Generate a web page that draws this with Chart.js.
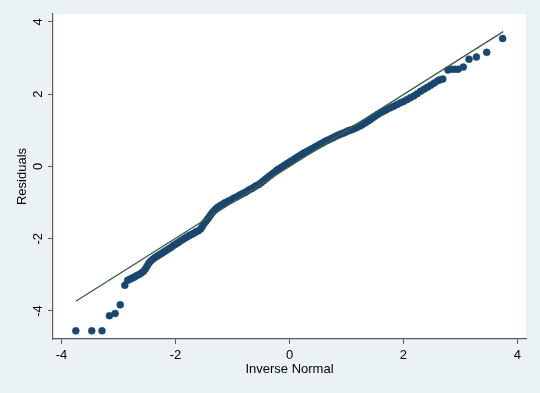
<!DOCTYPE html>
<html>
<head>
<meta charset="utf-8">
<script src="https://cdn.jsdelivr.net/npm/chart.js@4.4.1/dist/chart.umd.min.js"></script>
<style>
    html, body { margin: 0; padding: 0; background: #eaf2f3; }
    canvas { display: block; }
</style>
</head>
<body>
<canvas id="qnormChart" width="540" height="393"></canvas>
<script>
// ===== DATA =====

const xTicks = [-4, -2, 0, 2, 4];
const yTicks = [-4, -2, 0, 2, 4];

// inverse normal (x) and residuals (y) of the plotted points
const invNormal = [
    -3.75, -3.47, -3.29, -3.16, -3.06, -2.97, -2.89, -2.84, -2.80, -2.76,
    -2.72, -2.68, -2.64, -2.60, -2.56, -2.53, -2.50, -2.47, -2.44, -2.40,
    -2.36, -2.32, -2.28, -2.24, -2.20, -2.16, -2.12, -2.08, -2.04, -2.00,
    -1.96, -1.92, -1.88, -1.84, -1.80, -1.76, -1.72, -1.68, -1.64, -1.60,
    -1.56, -1.53, -1.50, -1.47, -1.44, -1.41, -1.38, -1.35, -1.32, -1.29,
    -1.26, -1.22, -1.18, -1.14, -1.10, -1.06, -1.02, -0.98, -0.94, -0.90,
    -0.86, -0.82, -0.78, -0.74, -0.70, -0.66, -0.62, -0.58, -0.54, -0.50,
    -0.46, -0.42, -0.38, -0.34, -0.30, -0.26, -0.22, -0.18, -0.14, -0.10,
    -0.06, -0.02, 0.02, 0.06, 0.10, 0.14, 0.18, 0.22, 0.26, 0.30,
    0.34, 0.38, 0.42, 0.46, 0.50, 0.54, 0.58, 0.62, 0.66, 0.70,
    0.74, 0.78, 0.82, 0.86, 0.90, 0.94, 0.98, 1.02, 1.06, 1.10,
    1.14, 1.18, 1.22, 1.26, 1.30, 1.34, 1.38, 1.42, 1.46, 1.50,
    1.55, 1.60, 1.65, 1.70, 1.76, 1.82, 1.88, 1.94, 2.00, 2.06,
    2.12, 2.18, 2.24, 2.30, 2.36, 2.42, 2.48, 2.54, 2.60, 2.64,
    2.69, 2.78, 2.84, 2.90, 2.96, 3.05, 3.15, 3.28, 3.46, 3.74
];

const residuals = [
    -4.55, -4.55, -4.55, -4.13, -4.07, -3.83, -3.29, -3.15, -3.12, -3.09,
    -3.06, -3.02, -2.99, -2.95, -2.90, -2.84, -2.76, -2.68, -2.62, -2.57,
    -2.52, -2.48, -2.44, -2.40, -2.36, -2.32, -2.28, -2.24, -2.19, -2.15,
    -2.11, -2.07, -2.03, -1.99, -1.95, -1.91, -1.88, -1.85, -1.81, -1.78,
    -1.73, -1.66, -1.58, -1.52, -1.46, -1.40, -1.33, -1.27, -1.22, -1.17,
    -1.13, -1.09, -1.05, -1.01, -0.98, -0.95, -0.92, -0.88, -0.85, -0.82,
    -0.78, -0.75, -0.72, -0.68, -0.64, -0.61, -0.57, -0.53, -0.50, -0.45,
    -0.40, -0.35, -0.30, -0.25, -0.20, -0.15, -0.10, -0.06, -0.02, 0.02,
    0.06, 0.10, 0.14, 0.18, 0.22, 0.26, 0.30, 0.34, 0.38, 0.41,
    0.44, 0.48, 0.51, 0.55, 0.58, 0.62, 0.65, 0.69, 0.72, 0.75,
    0.78, 0.81, 0.84, 0.87, 0.90, 0.92, 0.95, 0.98, 1.00, 1.02,
    1.05, 1.08, 1.11, 1.14, 1.18, 1.22, 1.26, 1.30, 1.35, 1.39,
    1.44, 1.49, 1.53, 1.57, 1.62, 1.66, 1.71, 1.76, 1.80, 1.85,
    1.90, 1.95, 2.01, 2.08, 2.14, 2.19, 2.25, 2.31, 2.37, 2.40,
    2.42, 2.67, 2.69, 2.69, 2.69, 2.75, 2.97, 3.03, 3.16, 3.54
];

// reference line end points
const refX = [-3.75, 3.75];
const refY = [-3.73, 3.73];

// ===== STYLE =====

const FONT = "'Liberation Sans', Arial, sans-serif";
const AXIS_COLOR = "#5b5b5b";

const backgroundPlugin = {
    id: "stataBackground",
    beforeDraw(chart) {
        const ctx = chart.ctx;
        const area = chart.chartArea;
        ctx.save();
        ctx.fillStyle = "#eaf2f3";
        ctx.fillRect(0, 0, chart.width, chart.height);
        ctx.fillStyle = "#ffffff";
        ctx.fillRect(area.left, area.top, area.right - area.left, area.bottom - area.top);
        ctx.restore();
    },
    afterDraw(chart) {
        // rotated y tick labels and y title, as Stata draws them
        const ctx = chart.ctx;
        const yScale = chart.scales.y;
        const area = chart.chartArea;
        ctx.save();
        ctx.fillStyle = "#000000";
        ctx.font = "13px " + FONT;
        ctx.textAlign = "center";
        ctx.textBaseline = "middle";
        yTicks.forEach(t => {
            const py = yScale.getPixelForValue(t);
            ctx.save();
            ctx.translate(38, py);
            ctx.rotate(-Math.PI / 2);
            ctx.fillText(String(t), 0, 0);
            ctx.restore();
        });
        ctx.translate(22, (area.top + area.bottom) / 2);
        ctx.rotate(-Math.PI / 2);
        ctx.fillText("Residuals", 0, 0);
        ctx.restore();
    }
};

const points = invNormal.map((x, i) => ({ x: x, y: residuals[i] }));
const refLine = refX.map((x, i) => ({ x: x, y: refY[i] }));

new Chart(document.getElementById("qnormChart"), {
    type: "scatter",
    data: {
        datasets: [
            {
                label: "Reference",
                data: refLine,
                showLine: true,
                borderColor: "#3e5e4c",
                borderWidth: 1.4,
                pointRadius: 0,
                fill: false
            },
            {
                label: "Residuals",
                data: points,
                backgroundColor: "#1a476f",
                borderColor: "#1a476f",
                borderWidth: 0.5,
                pointRadius: 3.5
            }
        ]
    },
    options: {
        responsive: false,
        animation: false,
        devicePixelRatio: 1,
        layout: {
            padding: { top: 14, right: 14, bottom: 0, left: 0 }
        },
        plugins: {
            legend: { display: false },
            tooltip: { enabled: false }
        },
        scales: {
            x: {
                type: "linear",
                min: -4.15,
                max: 4.15,
                afterBuildTicks: scale => {
                    scale.ticks = xTicks.map(v => ({ value: v }));
                },
                afterFit: scale => { scale.height = 54; },
                border: { display: true, color: AXIS_COLOR, width: 1.2 },
                grid: {
                    drawOnChartArea: false,
                    drawTicks: true,
                    tickLength: 5,
                    color: AXIS_COLOR
                },
                ticks: {
                    color: "#000000",
                    padding: 4,
                    maxRotation: 0,
                    font: { family: FONT, size: 13 }
                },
                title: {
                    display: true,
                    text: "Inverse Normal",
                    color: "#000000",
                    font: { family: FONT, size: 13 },
                    padding: { top: 0, bottom: 16 }
                }
            },
            y: {
                type: "linear",
                min: -4.775,
                max: 4.22,
                afterBuildTicks: scale => {
                    scale.ticks = yTicks.map(v => ({ value: v }));
                },
                afterFit: scale => { scale.width = 53; },
                border: { display: true, color: AXIS_COLOR, width: 1.2 },
                grid: {
                    drawOnChartArea: false,
                    drawTicks: true,
                    tickLength: 5,
                    color: AXIS_COLOR
                },
                ticks: { display: false }
            }
        }
    },
    plugins: [backgroundPlugin]
});
</script>
</body>
</html>
